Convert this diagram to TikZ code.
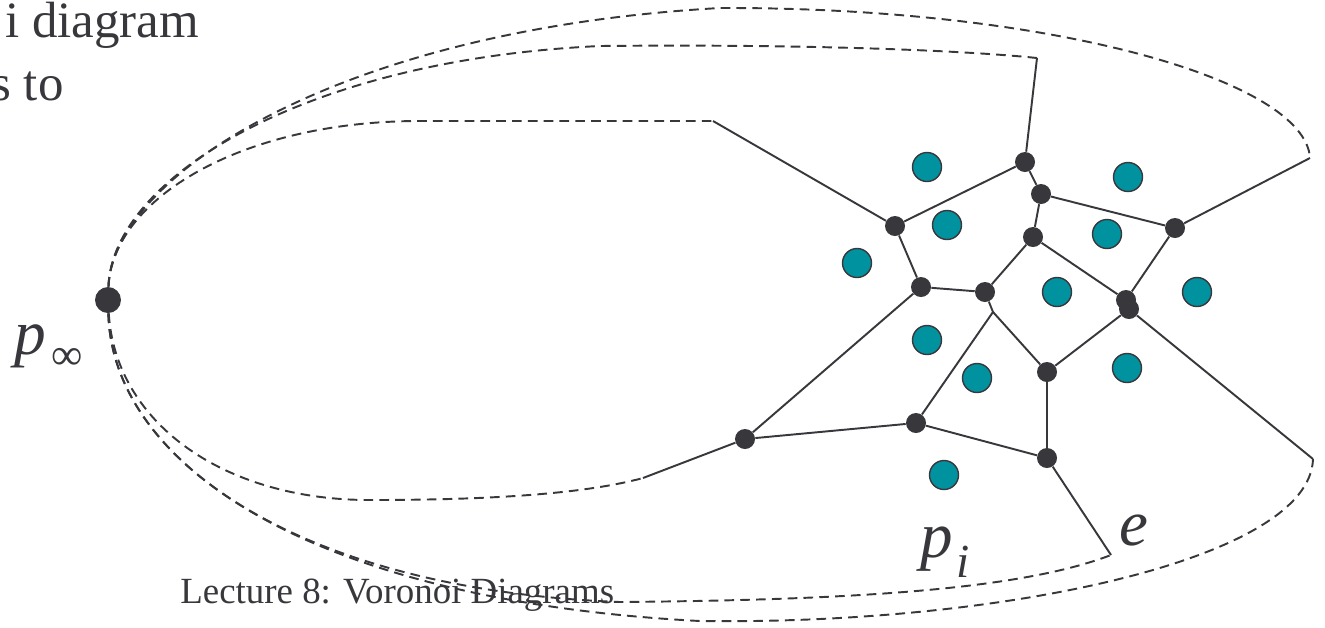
\documentclass[tikz,border=0pt]{standalone}
\usepackage{fontspec}
\setmainfont{Liberation Serif}
\usetikzlibrary{positioning}
\definecolor{ink}{HTML}{38373C}
\definecolor{sitecol}{HTML}{00939F}
\tikzset{
  vtx/.style={circle, fill=ink, inner sep=0pt, minimum size=0.4cm},
  site/.style={circle, fill=sitecol, draw=ink, line width=0.8pt, inner sep=0pt, minimum size=0.58cm},
  edge/.style={draw=ink, line width=1.1pt},
  far/.style={draw=ink, line width=1.1pt, dash pattern=on 5.5pt off 3.5pt},
  lbl/.style={text=ink, inner sep=0pt, anchor=base west}
}
\begin{document}
\begin{tikzpicture}[x=0.02cm, y=-0.02cm]
    \useasboundingbox (0,0) rectangle (1325,627);

    \node[lbl, font=\fontsize{29}{34}\selectfont] (head1) at (5,37) {i diagram};
    \node[lbl, font=\fontsize{29}{34}\selectfont] (head2) at (-9,100) {s to};
    \node[lbl, font=\fontsize{21}{25}\selectfont] (foot) at (180,603) {Lecture 8: Voronoi Diagrams};

    % point at infinity
    \node[vtx, minimum size=0.52cm] (pinf) at (108,300) {};
    \node[lbl, font=\fontsize{36}{40}\selectfont] (pinflbl) at (14,354) {\textit{p}\kern3pt\raisebox{-0.24em}{\fontsize{25}{28}\selectfont ∞}};
    \node[lbl, font=\fontsize{37}{42}\selectfont] (pilbl) at (920,557) {\textit{p}\kern2pt\raisebox{-0.4cm}{\fontsize{27}{30}\selectfont\textit{i}}};
    \node[lbl, font=\fontsize{37}{42}\selectfont] (elbl) at (1119,545) {\textit{e}};

    % sites
    \node[site] (s1) at (927,167) {};
    \node[site] (s2) at (1128,177) {};
    \node[site] (s3) at (947,225) {};
    \node[site] (s4) at (1107,234) {};
    \node[site] (s5) at (857,263) {};
    \node[site] (s6) at (1057,292) {};
    \node[site] (s7) at (1197,292) {};
    \node[site] (s8) at (927,340) {};
    \node[site] (s9) at (977,378) {};
    \node[site] (s10) at (1127,368) {};
    \node[site] (s11) at (944,475) {};

    % Voronoi vertices
    \node[vtx] (v1) at (1025,162) {};
    \node[vtx] (v2) at (1041,194) {};
    \node[vtx] (v3) at (1033,237) {};
    \node[vtx] (v4) at (895,226) {};
    \node[vtx] (v5) at (921,287) {};
    \node[vtx] (v6) at (985,292) {};
    \node[vtx] (v7) at (1175,228) {};
    \node[vtx] (v8a) at (1126,300) {};
    \node[vtx] (v8b) at (1129,309) {};
    \node[vtx] (v9) at (1047,372) {};
    \node[vtx] (v10) at (916,423) {};
    \node[vtx] (v11) at (745,439) {};
    \node[vtx] (v12) at (1047,458) {};
    \coordinate (j) at (993,312);

    % ends of the unbounded edges
    \coordinate (u1) at (713,121);
    \coordinate (u2) at (1037,58);
    \coordinate (u3) at (1310,158);
    \coordinate (u4) at (1313,459);
    \coordinate (u5) at (1111,555);
    \coordinate (u6) at (643,478);

    \draw[edge] (v1) -- (u2);
    \draw[edge] (v1) -- (v2);
    \draw[edge] (v1) -- (v4);
    \draw[edge] (v4) -- (u1);
    \draw[edge] (v4) -- (v5);
    \draw[edge] (v2) -- (v3);
    \draw[edge] (v2) -- (v7);
    \draw[edge] (v7) -- (u3);
    \draw[edge] (v7) -- (v8a);
    \draw[edge] (v3) -- (v6);
    \draw[edge] (v3) -- (v8a);
    \draw[edge] (v5) -- (v6);
    \draw[edge] (v5) -- (v11);
    \draw[edge] (v6) -- (j) -- (v10);
    \draw[edge] (j) -- (v9);
    \draw[edge] (v8b) -- (v9);
    \draw[edge] (v8b) -- (u4);
    \draw[edge] (v9) -- (v12);
    \draw[edge] (v10) -- (v11);
    \draw[edge] (v10) -- (v12);
    \draw[edge] (v11) -- (u6);
    \draw[edge] (v12) -- (u5);

    % edges closed through p_infinity
    \draw[far] (pinf) .. controls (112,200) and (240,121) .. (420,121) -- (u1);
    \draw[far] (pinf) .. controls (112,180) and (300,60) .. (600,46) .. controls (800,44) and (960,50) .. (u2);
    \draw[far] (pinf) .. controls (112,180) and (330,30) .. (720,8) .. controls (1050,7) and (1305,80) .. (u3);
    \draw[far] (pinf) .. controls (115,420) and (220,500) .. (370,500) .. controls (480,500) and (580,495) .. (u6);
    \draw[far] (pinf) .. controls (112,460) and (300,590) .. (620,602) .. controls (850,600) and (1020,590) .. (u5);
    \draw[far] (pinf) .. controls (112,460) and (300,600) .. (700,621) .. controls (1000,625) and (1310,560) .. (u4);
\end{tikzpicture}
\end{document}
